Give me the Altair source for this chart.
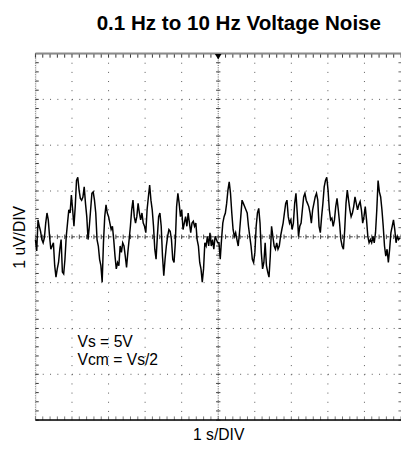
import altair as alt
import numpy as np
import pandas as pd

# 0.1 Hz to 10 Hz noise trace (uV, 1 uV/DIV), 0..~10 s
noise_uv = [
    -0.06, -0.31, 0.37, 0.23, 0.12, -0.06, -0.13, -0.02, 0.30, 0.52, 0.37, 0.01, -0.27, -0.20, -0.13,
    -0.63, -0.88, -0.70, -0.56, -0.27, -0.06, -0.77, -0.81, -0.49, 0.01, 0.30, 0.59, 0.52, 0.91, 0.59,
    0.23, 0.66, 1.23, 1.30, 1.02, 0.84, 0.80, 0.87, 1.09, 0.73, 0.44, -0.06, 0.23, 0.59, 0.95, 0.98,
    0.80, 0.52, -0.06, -0.20, -0.49, -0.63, -0.99, -0.13, 0.44, 0.70, 0.52, 0.44, 0.30, 0.16, 0.23,
    -0.06, -0.42, -0.70, -0.56, -0.63, -0.20, -0.34, -0.13, -0.20, -0.42, -0.67, -0.34, -0.06, 0.23,
    0.59, 0.80, 0.44, 0.30, 0.44, 0.73, 0.52, 0.37, 0.52, 0.30, 0.23, 0.09, 0.59, 0.87, 1.13, 0.80,
    0.59, 0.23, -0.27, -0.49, 0.01, 0.44, 0.52, 0.23, -0.42, -0.85, -0.49, -0.20, 0.01, 0.16, 0.12,
    -0.06, -0.49, -0.56, -0.13, 0.66, 0.95, 0.73, 0.44, 0.59, 0.16, 0.30, 0.44, 0.23, 0.52, 0.30, 0.09,
    0.30, 0.34, 0.23, 0.30, -0.06, -0.20, -0.56, -0.70, -0.99, -0.70, -0.13, -0.20, 0.01, -0.20, 0.09,
    -0.20, -0.06, -0.27, 0.01, -0.06, -0.13,
    -0.13, -0.49, -0.06, 0.30, 0.44, 0.52, 0.73, 1.02, 1.20, 0.95, 0.52, 0.16, 0.01, 0.09, -0.06,
    -0.20, 0.09, 0.44, 0.80, 0.73, 0.66, 0.59, 0.52, 0.23, 0.01, -0.20, -0.49, -0.56, -0.34, 0.23,
    0.52, 0.62, 0.30, -0.34, -0.70, -0.56, -0.13, -0.63, -0.77, -0.88, -0.42, 0.23, 0.01, -0.20,
    -0.27, -0.13, -0.27, -0.20, 0.01, 0.16, 0.30, 0.52, 0.73, 0.80, 0.44, 0.30, 0.37, 0.16, 0.30,
    0.73, 0.95, 0.52, 0.01, 0.23, 0.30, 0.59, 0.87, 0.95, 0.80, 0.73, 0.66, 0.52, 0.30, 0.59, 0.73,
    0.87, 0.95, 0.80, 0.23, 0.09, 0.44, 0.73, 1.09, 1.23, 1.30, 1.02, 0.59, 0.37, 0.41, 0.23, 0.37,
    0.66, 0.84, 0.59, 0.30, -0.06, -0.20, -0.27, 0.16, 0.73, 1.02, 0.80, 0.59, 0.44, 0.52, 0.66, 0.87,
    0.73, 0.59, 0.70, 0.77, 0.59, 0.30, 0.44, 0.66, 0.37, 0.01, -0.13, -0.06, -0.13, 0.01, -0.13,
    0.09, 0.59, 1.23, 0.98, 0.87, 0.59, 0.23, -0.20, -0.42, -0.27, -0.56, -0.27, 0.09, 0.23, 0.37,
    0.16, -0.13, 0.01, -0.06, -0.02,
]
trace_end_s = 9.97
time_s = np.linspace(0, trace_end_s, len(noise_uv))

# screen graticule: 10 x 8 divisions
x_divs = [0, 10]
y_divs = [-4, 4]
v_grid = [1, 2, 3, 4, 6, 7, 8, 9]
h_grid = [-3, -2, -1, 1, 2, 3]
x_minor = [round(0.2 * i, 2) for i in range(51)]
y_minor = [round(-4 + 0.2 * i, 2) for i in range(41)]

notes = ["Vs = 5V", "Vcm = Vs/2"]
note_t = [1.15, 1.15]
note_v = [-2.41, -2.80]

FONT = "Liberation Sans"
xs = alt.Scale(domain=x_divs, nice=False, zero=False)
ys = alt.Scale(domain=y_divs, nice=False, zero=False)
xax = alt.Axis(title="1 s/DIV", labels=False, ticks=False, domain=False, grid=False,
               titlePadding=7, titleFont=FONT, titleFontSize=16, titleFontWeight="normal",
               titleColor="black")
yax = alt.Axis(title="1 uV/DIV", labels=False, ticks=False, domain=False, grid=False,
               titlePadding=8, titleFont=FONT, titleFontSize=16, titleFontWeight="normal",
               titleColor="black")


def X(f):
    return alt.X(f, type="quantitative", scale=xs, axis=xax)


def Y(f):
    return alt.Y(f, type="quantitative", scale=ys, axis=yax)


# dotted grid
vg = pd.DataFrame({"t": v_grid, "ya": 4, "yb": -4})
hg = pd.DataFrame({"v": h_grid, "xa": 0, "xb": 10})
vgrid = alt.Chart(vg).mark_rule(color="#555", strokeWidth=1, strokeDash=[1, 8.35]).encode(
    x=X("t"), y=Y("ya"), y2="yb")
hgrid = alt.Chart(hg).mark_rule(color="#555", strokeWidth=1, strokeDash=[1, 6.46]).encode(
    x=X("xa"), x2="xb", y=Y("v"))

# center cross
ch = pd.DataFrame({"v": [0], "xa": [0], "xb": [10]})
cv = pd.DataFrame({"t": [5], "ya": [4], "yb": [-4]})
center_h = alt.Chart(ch).mark_rule(color="#333", strokeWidth=1, strokeDash=[3, 1.5, 1, 1.96]).encode(
    x=X("xa"), x2="xb", y=Y("v"))
center_v = alt.Chart(cv).mark_rule(color="#555", strokeWidth=1, strokeDash=[1, 1.34]).encode(
    x=X("t"), y=Y("ya"), y2="yb")
chx = pd.DataFrame({"t": x_minor, "ya": 0.05, "yb": -0.05})
cvy = pd.DataFrame({"v": y_minor, "xa": 4.94, "xb": 5.06})
center_hticks = alt.Chart(chx).mark_rule(color="#444", strokeWidth=1).encode(
    x=X("t"), y=Y("ya"), y2="yb")
center_vticks = alt.Chart(cvy).mark_rule(color="#444", strokeWidth=1).encode(
    x=X("xa"), x2="xb", y=Y("v"))

# frame
top = alt.Chart(pd.DataFrame({"v": [4], "xa": [0], "xb": [10]})).mark_rule(
    color="#8a8a8a", strokeWidth=2).encode(x=X("xa"), x2="xb", y=Y("v"))
bottom = alt.Chart(pd.DataFrame({"v": [-4], "xa": [0], "xb": [10]})).mark_rule(
    color="black", strokeWidth=1.5).encode(x=X("xa"), x2="xb", y=Y("v"))
top_ticks = alt.Chart(pd.DataFrame({"t": x_minor, "ya": 4, "yb": 3.91})).mark_rule(
    color="#333", strokeWidth=1).encode(x=X("t"), y=Y("ya"), y2="yb")
bot_ticks = alt.Chart(pd.DataFrame({"t": x_minor, "ya": -4, "yb": -3.92})).mark_rule(
    color="#777", strokeWidth=1).encode(x=X("t"), y=Y("ya"), y2="yb")
left_line = alt.Chart(pd.DataFrame({"t": [0], "ya": [4], "yb": [-4]})).mark_rule(
    color="#888", strokeWidth=1, strokeDash=[1, 1.34]).encode(x=X("t"), y=Y("ya"), y2="yb")
left_ticks = alt.Chart(pd.DataFrame({"v": y_minor, "xa": 0, "xb": 0.09})).mark_rule(
    color="#333", strokeWidth=1).encode(x=X("xa"), x2="xb", y=Y("v"))
right_ticks = alt.Chart(pd.DataFrame({"v": y_minor, "xa": 9.93, "xb": 10})).mark_rule(
    color="#666", strokeWidth=1).encode(x=X("xa"), x2="xb", y=Y("v"))
marker = alt.Chart(pd.DataFrame({"t": [5], "v": [3.93]})).mark_point(
    shape="triangle-down", filled=True, color="black", opacity=1, size=45).encode(
    x=X("t"), y=Y("v"))

# trace
tr = pd.DataFrame({"t": time_s, "v": noise_uv})
trace = alt.Chart(tr).mark_line(color="black", strokeWidth=1.5).encode(x=X("t"), y=Y("v"))

# annotation
nt = pd.DataFrame({"t": note_t, "v": note_v, "label": notes})
note = alt.Chart(nt).mark_text(align="left", baseline="alphabetic", font=FONT, fontSize=16,
                               color="black").encode(x=X("t"), y=Y("v"), text="label:N")

chart = alt.layer(
    vgrid, hgrid, center_h, center_v, center_hticks, center_vticks,
    left_line, left_ticks, right_ticks, bot_ticks, top_ticks, top, bottom,
    trace, note, marker,
).properties(
    width=373, height=374,
    title=alt.TitleParams("0.1 Hz to 10 Hz Voltage Noise", font=FONT, fontSize=21,
                          fontWeight="bold", anchor="middle", dx=21, offset=19, color="black"),
    autosize=alt.AutoSizeParams(type="none"),
    padding={"left": 28, "top": 42, "right": 0, "bottom": 25},
).configure_view(stroke=None).configure(background="white")

chart.save("out.html", embed_options={"renderer": "svg", "actions": False})
